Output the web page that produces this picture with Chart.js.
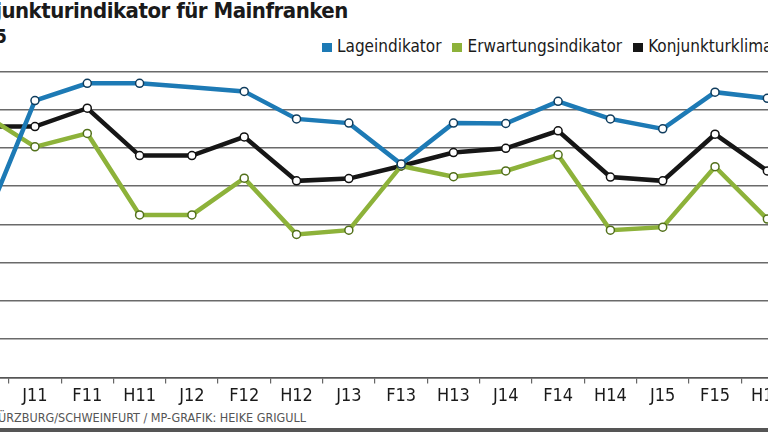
<!DOCTYPE html>
<html>
<head>
<meta charset="utf-8">
<script src="https://cdn.jsdelivr.net/npm/chart.js@4.4.1/dist/chart.umd.min.js"></script>
<style>
  html, body { margin: 0; padding: 0; background: #fff; }
  body { width: 768px; height: 432px; position: relative; overflow: hidden;
         font-family: 'Liberation Sans Narrow', 'DejaVu Sans Condensed', sans-serif; }
  #title { position: absolute; left: -46px; top: -2px; font-size: 22px; letter-spacing: -0.5px; font-weight: bold; color: #1a1a1a; white-space: nowrap; }
  #sub { position: absolute; left: -5px; top: 25px; font-size: 19px; font-weight: bold; color: #1a1a1a; }
  #legend { position: absolute; left: 322px; top: 36px; font-size: 17px; color: #1a1a1a; white-space: nowrap; }
  #legend span.sw { display: inline-block; width: 10px; height: 9px; margin-right: 5px; vertical-align: 0px; }
  #legend span.it { margin-right: 11px; }
  #source { position: absolute; left: -2px; top: 410px; font-size: 12.5px; color: #555; white-space: nowrap; }
  #bar { position: absolute; left: 0; top: 428px; width: 768px; height: 4px; background: #555; }
  #wrap { position: absolute; left: -49px; top: 66px; width: 848px; height: 343px; }
</style>
</head>
<body>
<div id="title">Konjunkturindikator für Mainfranken</div>
<div id="sub">5</div>
<div id="legend"></div>
<div id="wrap"><canvas id="chart"></canvas></div>
<div id="source">ÜRZBURG/SCHWEINFURT / MP-GRAFIK: HEIKE GRIGULL</div>
<div id="bar"></div>
<script>
const labels = ['H10', 'J11', 'F11', 'H11', 'J12', 'F12', 'H12', 'J13', 'F13', 'H13', 'J14', 'F14', 'H14', 'J15', 'F15', 'H15'];
const lage = [99.0, 132.4, 136.9, 136.9, 135.9, 134.8, 127.6, 126.5, 115.8, 126.5, 126.4, 132.2, 127.6, 125.0, 134.6, 133.0];
const erwartung = [129.0, 120.3, 123.8, 102.5, 102.5, 112.1, 97.4, 98.5, 115.3, 112.5, 114.0, 118.2, 98.5, 99.3, 115.1, 101.4];
const klima = [125.6, 125.6, 130.4, 118.0, 118.0, 122.9, 111.4, 112.0, 115.3, 118.8, 119.9, 124.5, 112.4, 111.4, 123.6, 114.0];
const lageRadius = lage.map((v, i) => i === 4 ? 0 : 4);

const series = [
    { label: 'Lageindikator', data: lage, color: '#1d7ab5', edge: '#103d5e', radius: lageRadius, order: 1 },
    { label: 'Erwartungsindikator', data: erwartung, color: '#8db23a', edge: '#52701a', radius: 4, order: 2 },
    { label: 'Konjunkturklima', data: klima, color: '#161616', edge: '#111', radius: 4, order: 3 }
];

const legendEl = document.getElementById('legend');
series.forEach(s => {
    const item = document.createElement('span');
    item.className = 'it';
    item.innerHTML = `<span class="sw" style="background:${s.color}"></span>${s.label}`;
    legendEl.appendChild(item);
});

new Chart(document.getElementById('chart'), {
    type: 'line',
    data: {
        labels: labels,
        datasets: series.map(s => ({
            label: s.label,
            data: s.data,
            borderColor: s.color,
            borderWidth: 4.5,
            pointBackgroundColor: '#fff',
            pointBorderColor: s.edge,
            pointBorderWidth: 1.5,
            pointRadius: s.radius,
            tension: 0,
            order: s.order
        }))
    },
    options: {
        responsive: true,
        maintainAspectRatio: false,
        animation: false,
        layout: { padding: 0 },
        plugins: { legend: { display: false }, tooltip: { enabled: false } },
        scales: {
            x: {
                offset: true,
                grid: { offset: true, drawOnChartArea: false, drawTicks: true, tickLength: 6, color: '#666', lineWidth: 1.2 },
                border: { color: '#555', width: 1.5 },
                ticks: { color: '#1a1a1a', font: { family: "'Liberation Sans Narrow', 'DejaVu Sans Condensed', sans-serif", size: 18 }, padding: 2, maxRotation: 0, autoSkip: false }
            },
            y: {
                min: 60,
                max: 140,
                ticks: { stepSize: 10, display: false },
                grid: { color: '#6a6a6a', lineWidth: 1.5, drawTicks: false },
                border: { display: false }
            }
        }
    }
});
</script>
</body>
</html>
